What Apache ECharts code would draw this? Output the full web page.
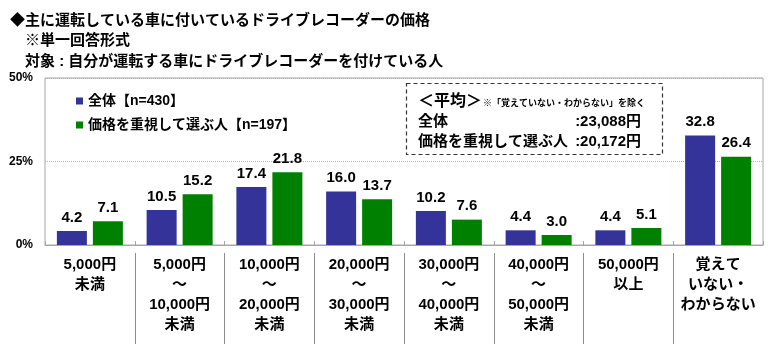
<!DOCTYPE html>
<html><head><meta charset="utf-8">
<script src="https://cdn.jsdelivr.net/npm/echarts@6/dist/echarts.min.js"></script>
<style>html,body{margin:0;padding:0;background:#fff}#c{width:770px;height:344px}</style>
</head><body><div id="c"></div>
<script>
const categories = ["5,000円\n未満", "5,000円\n～\n10,000円\n未満", "10,000円\n～\n20,000円\n未満", "20,000円\n～\n30,000円\n未満", "30,000円\n～\n40,000円\n未満", "40,000円\n～\n50,000円\n未満", "50,000円\n以上", "覚えて\nいない・\nわからない"];
const seriesNames = ["全体【n=430】", "価格を重視して選ぶ人【n=197】"];
const allValues = [4.2, 10.5, 17.4, 16.0, 10.2, 4.4, 4.4, 32.8];
const priceValues = [7.1, 15.2, 21.8, 13.7, 7.6, 3.0, 5.1, 26.4];
const yTicks = [0, 25, 50];
const titleLines = ["◆主に運転している車に付いているドライブレコーダーの価格", "※単一回答形式", "対象 : 自分が運転する車にドライブレコーダーを付けている人"];
const avgTitle = "＜平均＞";
const avgNote = "※「覚えていない・わからない」を除く";
const avgLabels = ["全体", "価格を重視して選ぶ人"];
const avgValues = [":23,088円", ":20,172円"];

const FF = "'Liberation Sans', 'Noto Sans CJK JP', sans-serif";
const colors = ["#333399", "#008000"];
const chart = echarts.init(document.getElementById('c'), null, {renderer: 'canvas'});

const boundaries = new Array(categories.length + 1).fill('');
const titleStyle = {fontFamily: FF, fontSize: 15, fontWeight: 'bold', color: '#000'};

const option = {
  animation: false,
  textStyle: {fontFamily: FF},
  title: [
    {text: titleLines[0], left: 5, top: 8, textStyle: titleStyle},
    {text: titleLines[1], left: 20, top: 28, textStyle: titleStyle},
    {text: titleLines[2], left: 20, top: 49, textStyle: titleStyle}
  ],
  legend: {
    orient: 'vertical', left: 71, top: 89, itemWidth: 7, itemHeight: 7, itemGap: 10,
    icon: 'rect',
    textStyle: {fontFamily: FF, fontSize: 14, fontWeight: 'bold', color: '#000', lineHeight: 14},
    data: seriesNames
  },
  grid: {left: 45, right: 7, top: 78, bottom: 99, show: true, borderColor: '#a6a6a6', borderWidth: 1},
  xAxis: [
    {type: 'category', data: categories, position: 'bottom',
     axisLine: {show: true, lineStyle: {color: '#a6a6a6'}},
     axisTick: {show: true, inside: true, length: 4, lineStyle: {color: '#a6a6a6'}},
     axisLabel: {interval: 0, margin: 10, fontFamily: FF, fontSize: 15, fontWeight: 'bold', color: '#000', lineHeight: 20, verticalAlign: 'top'}},
    {type: 'category', data: boundaries, boundaryGap: false, position: 'bottom', offset: 8,
     axisLine: {show: false},
     axisTick: {show: true, length: 95, interval: (i) => i > 0 && i < categories.length, lineStyle: {color: '#8c8c8c'}},
     axisLabel: {show: false}}
  ],
  yAxis: {type: 'value', min: yTicks[0], max: yTicks[yTicks.length - 1], interval: yTicks[1] - yTicks[0],
    axisLine: {show: false}, axisTick: {show: false},
    axisLabel: {formatter: '{value}%', margin: 12, fontFamily: FF, fontSize: 12, fontWeight: 'bold', color: '#000'},
    splitLine: {show: true, lineStyle: {type: 'dotted', color: '#b0b0b0'}}
  },
  series: [
    {name: seriesNames[0], type: 'bar', data: allValues, barWidth: 30, barGap: '20%', xAxisIndex: 0,
     itemStyle: {color: colors[0]},
     label: {show: true, position: 'top', distance: 6, formatter: (p) => p.value.toFixed(1), fontFamily: FF, fontSize: 15, fontWeight: 'bold', color: '#000'}},
    {name: seriesNames[1], type: 'bar', data: priceValues, barWidth: 30, barGap: '20%', xAxisIndex: 0,
     itemStyle: {color: colors[1]},
     label: {show: true, position: 'top', distance: 6, formatter: (p) => p.value.toFixed(1), fontFamily: FF, fontSize: 15, fontWeight: 'bold', color: '#000'}}
  ],
  graphic: [
    {type: 'rect', shape: {x: 406.5, y: 83.5, width: 256, height: 71}, style: {fill: '#fff', stroke: '#333', lineWidth: 1.2, lineDash: [4, 3]}, z: 10},
    {type: 'text', x: 418, y: 102, style: {text: avgTitle, fontFamily: FF, fontSize: 16, fontWeight: 'bold', fill: '#000', verticalAlign: 'middle'}, z: 11},
    {type: 'text', x: 483, y: 104, style: {text: avgNote, fontFamily: FF, fontSize: 9, fontWeight: 'bold', fill: '#000', verticalAlign: 'middle'}, z: 11},
    {type: 'text', x: 418, y: 122, style: {text: avgLabels[0], fontFamily: FF, fontSize: 15, fontWeight: 'bold', fill: '#000', verticalAlign: 'middle'}, z: 11},
    {type: 'text', x: 418, y: 142, style: {text: avgLabels[1], fontFamily: FF, fontSize: 15, fontWeight: 'bold', fill: '#000', verticalAlign: 'middle'}, z: 11},
    {type: 'text', x: 641, y: 122, style: {text: avgValues[0], fontFamily: FF, fontSize: 15, fontWeight: 'bold', fill: '#000', align: 'right', verticalAlign: 'middle'}, z: 11},
    {type: 'text', x: 641, y: 142, style: {text: avgValues[1], fontFamily: FF, fontSize: 15, fontWeight: 'bold', fill: '#000', align: 'right', verticalAlign: 'middle'}, z: 11}
  ]
};
chart.setOption(option);
</script></body></html>
